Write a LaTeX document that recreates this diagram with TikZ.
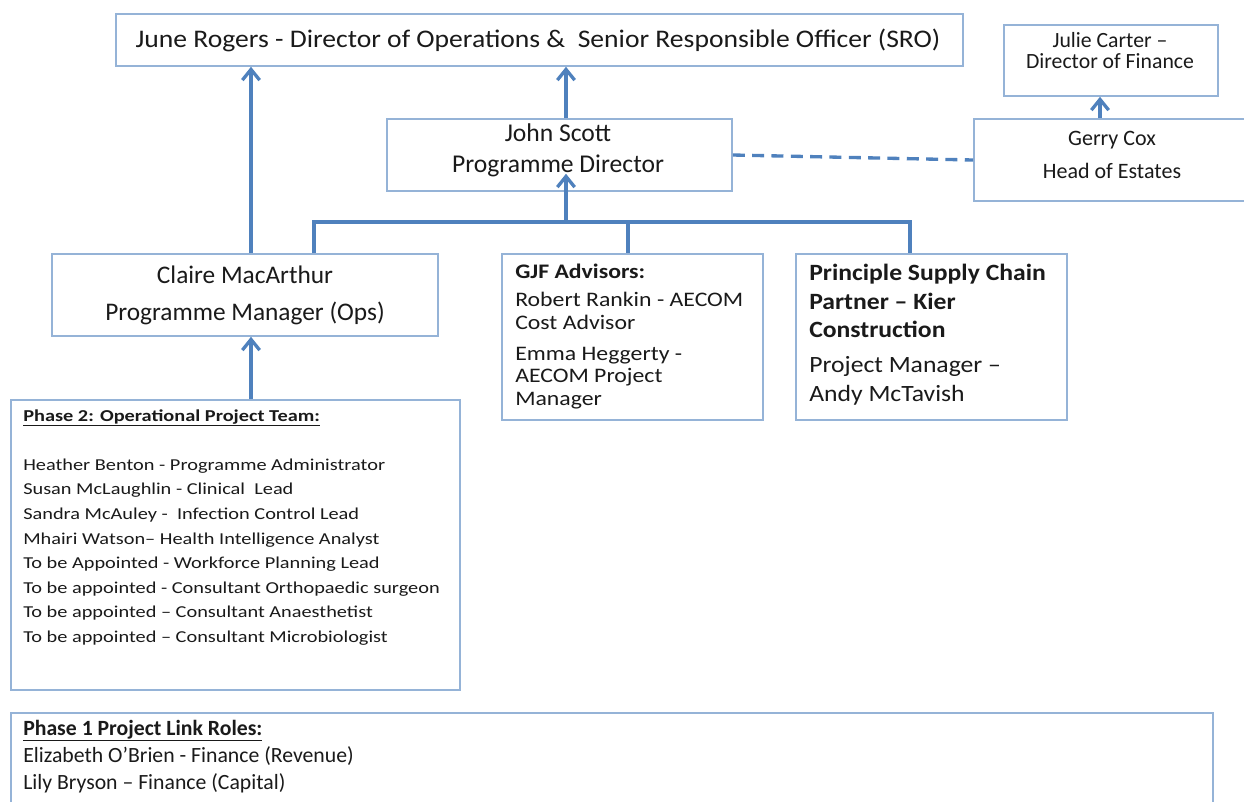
\documentclass[tikz,border=0pt]{standalone}
\usepackage{fontspec}
\setmainfont{Carlito}
\newfontfamily\srofont{Carlito}[FakeStretch=1.09]
\newfontfamily\gjffont{Carlito}[FakeStretch=1.15]
\newfontfamily\kierfont{Carlito}[FakeStretch=1.1]
\newfontfamily\teamfont{Carlito}[FakeStretch=1.22]
\usetikzlibrary{arrows.meta, positioning, calc}
\definecolor{linkblue}{HTML}{4F81BD}
\definecolor{edgeblue}{HTML}{95B3D7}
\definecolor{inktext}{HTML}{1A1A1A}
\newcommand{\px}{0.75pt}

\begin{document}
\begin{tikzpicture}[x=0.75pt, y=-0.75pt,
    panel/.style={draw=edgeblue, line width=1.2pt, inner sep=0pt, fill=white},
    nametext/.style={inner sep=0pt, align=center, text=inktext},
    listtext/.style={inner sep=0pt, align=left, anchor=north west, text=inktext},
    trunk/.style={linkblue, line width=2.5pt},
    link/.style={trunk, -{Straight Barb[length=8pt, width=13pt]}},
    dashlink/.style={trunk, dash pattern=on 9pt off 5.5pt}
]
    \useasboundingbox (0,0) rectangle (1244,801);

    % Boxes
    \node[panel, minimum width=847*\px, minimum height=52*\px] (sro) at (539.5,40) {};
    \node[panel, minimum width=214*\px, minimum height=71*\px] (finance) at (1111,60.5) {};
    \node[panel, minimum width=345*\px, minimum height=72*\px] (director) at (559.5,155) {};
    \node[panel, minimum width=276*\px, minimum height=82*\px] (estates) at (1112,160) {};
    \node[panel, minimum width=386*\px, minimum height=82*\px] (manager) at (245,295) {};
    \node[panel, minimum width=261*\px, minimum height=166*\px] (advisors) at (632.5,337) {};
    \node[panel, minimum width=271*\px, minimum height=166*\px] (kier) at (931.5,337) {};
    \node[panel, minimum width=449*\px, minimum height=290*\px] (team) at (235.5,545) {};
    \node[panel, minimum width=1202*\px, minimum height=110*\px] (links) at (612,768) {};

    % Names and roles
    \node[nametext, font=\srofont\fontsize{19}{22}\selectfont] (srotext) at (538,40)
        {June Rogers - Director of Operations \&\ \ Senior Responsible Officer (SRO)};
    \node[nametext, font=\fontsize{16.3}{15.75}\selectfont] (financetext) at (1110,50.5)
        {Julie Carter –\\Director of Finance};
    \node[nametext, font=\fontsize{19.2}{23.25}\selectfont] (directortext) at (558,150.5)
        {John Scott\\Programme Director};
    \node[nametext, font=\fontsize{16.5}{24.75}\selectfont] (estatestext) at (1112,154.5)
        {Gerry Cox\\Head of Estates};
    \node[nametext, font=\fontsize{19}{27.75}\selectfont] (managertext) at (245,295.5)
        {Claire MacArthur\\Programme Manager (Ops)};
    \node[listtext, font=\gjffont\fontsize{15.5}{16.9}\selectfont] (advisorstext) at (515,264)
        {\textbf{GJF Advisors:}\\[4pt]
         Robert Rankin - AECOM\\Cost Advisor\\[6.4pt]
         Emma Heggerty -\\AECOM Project\\Manager};
    \node[listtext, font=\kierfont\fontsize{17.5}{21.4}\selectfont] (kiertext) at (809,264)
        {\textbf{Principle Supply Chain}\\\textbf{Partner – Kier}\\\textbf{Construction}\\[4.9pt]
         Project Manager –\\Andy McTavish};
    \node[listtext, font=\teamfont\fontsize{12.5}{18.45}\selectfont] (teamtext) at (23,409)
        {\textbf{\underline{Phase 2: Operational Project Team:}}\\[18.45pt]
         Heather Benton - Programme Administrator\\
         Susan McLaughlin - Clinical\ \ Lead\\
         Sandra McAuley -\ \ Infection Control Lead\\
         Mhairi Watson– Health Intelligence Analyst\\
         To be Appointed - Workforce Planning Lead\\
         To be appointed - Consultant Orthopaedic surgeon\\
         To be appointed – Consultant Anaesthetist\\
         To be appointed – Consultant Microbiologist};
    \node[listtext, font=\fontsize{16.3}{20.25}\selectfont] (linkstext) at (23,719.5)
        {\textbf{\underline{Phase 1 Project Link Roles:}}\\
         Elizabeth O’Brien - Finance (Revenue)\\
         Lily Bryson – Finance (Capital)};

    % Reporting lines
    \coordinate (stem) at (251,0);
    \coordinate (spine) at (566,0);
    \coordinate (busL) at (314,222);
    \coordinate (busM) at (628,222);
    \coordinate (busR) at (910,222);
    \coordinate (fin) at (1100,0);

    \draw[link] (manager.north -| stem) -- (sro.south -| stem);
    \draw[link] (team.north -| stem) -- (manager.south -| stem);
    \draw[link] (director.north -| spine) -- (sro.south -| spine);
    \draw[trunk] (manager.north -| busL) -- (busL) -- (busR) -- (kier.north -| busR);
    \draw[trunk] (busM) -- (advisors.north -| busM);
    \draw[link] (busL -| spine) -- ($(director.south -| spine)+(0,-18)$);
    \draw[link] (estates.north -| fin) -- (finance.south -| fin);
    \draw[dashlink] (director.east) -- (estates.west);
\end{tikzpicture}
\end{document}
